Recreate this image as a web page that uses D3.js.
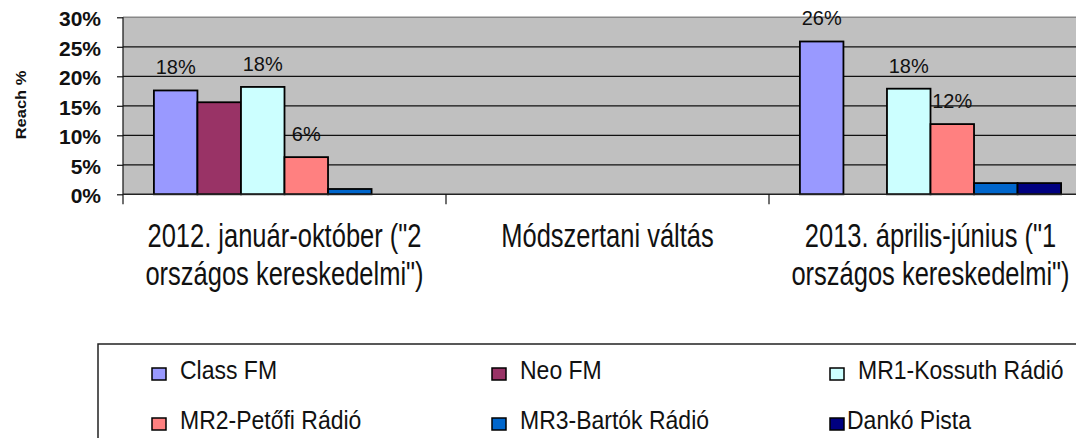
<!DOCTYPE html>
<html>
<head>
<meta charset="utf-8">
<script src="https://cdn.jsdelivr.net/npm/d3@7"></script>
<style>
  body { margin: 0; background: #fff; overflow: hidden; }
  svg { display: block; font-family: "Liberation Sans", Arial, sans-serif; }
  .catLabel { font-size: 25.5px; fill: #111; }
  .y-axis text { font-size: 21px; font-weight: bold; fill: #111; }
  .barLabel { font-size: 20px; fill: #111; }
  .legendText { font-size: 23px; fill: #111; }
</style>
</head>
<body>
<div id="chart"></div>
<script>
// data (reach, %)
var categories = ["2012. január-október (\"2 országos kereskedelmi\")", "Módszertani váltás", "2013. április-június (\"1 országos kereskedelmi\")"];
var categoryLines = [
  ["2012. január-október (\"2", "országos kereskedelmi\")"],
  ["Módszertani váltás"],
  ["2013. április-június (\"1", "országos kereskedelmi\")"]
];
var series = ["Class FM", "Neo FM", "MR1-Kossuth Rádió", "MR2-Petőfi Rádió", "MR3-Bartók Rádió", "Dankó Pista"];
var classFM = [17.6, null, 25.9];
var neoFM = [15.6, null, null];
var mr1 = [18.2, null, 17.9];
var mr2 = [6.3, null, 11.9];
var mr3 = [0.9, null, 1.9];
var danko = [null, null, 1.9];
var labelledSeries = ["Class FM", "MR1-Kossuth Rádió", "MR2-Petőfi Rádió"];
var yTicks = [0, 5, 10, 15, 20, 25, 30];

var colors = ["#9999FF", "#993366", "#CCFFFF", "#FF8080", "#0066CC", "#000080"];
var allValues = [classFM, neoFM, mr1, mr2, mr3, danko];

var svgWidth = 1076;
var svgHeight = 438;

var svg = d3.select("#chart")
  .append("svg")
  .attr("width", svgWidth)
  .attr("height", svgHeight);

// plot area (runs past the right edge, as in the picture)
var plot = { left: 123, top: 17.3, bottom: 194.3, right: 1092 };

var x0 = d3.scaleBand()
  .domain(categories)
  .range([plot.left, plot.right]);

var x1 = d3.scaleBand()
  .domain(series)
  .range([0, x0.bandwidth()])
  .paddingOuter(0.71);

var y = d3.scaleLinear()
  .domain([0, 30])
  .range([plot.bottom, plot.top]);

// grey background
svg.append("rect")
  .attr("x", plot.left)
  .attr("y", plot.top)
  .attr("width", plot.right - plot.left)
  .attr("height", plot.bottom - plot.top)
  .attr("fill", "#C0C0C0");

// gridlines
svg.selectAll(".grid")
  .data(yTicks.filter(d => d > 0 && d < 30))
  .enter()
  .append("line")
  .attr("x1", plot.left)
  .attr("x2", plot.right)
  .attr("y1", d => y(d))
  .attr("y2", d => y(d))
  .attr("stroke", "#111")
  .attr("stroke-width", 1.2);

// top border
svg.append("line")
  .attr("x1", plot.left)
  .attr("x2", plot.right)
  .attr("y1", y(30))
  .attr("y2", y(30))
  .attr("stroke", "#888")
  .attr("stroke-width", 1.5);

// build rows for bars
var rows = [];
series.forEach(function(s, i) {
  allValues[i].forEach(function(v, j) {
    if (v !== null) rows.push({ series: s, cat: categories[j], value: v, color: colors[i] });
  });
});

svg.selectAll(".bar")
  .data(rows)
  .enter()
  .append("rect")
  .attr("class", "bar")
  .attr("x", d => x0(d.cat) + x1(d.series))
  .attr("y", d => y(d.value))
  .attr("width", x1.bandwidth())
  .attr("height", d => y(0) - y(d.value))
  .attr("fill", d => d.color)
  .attr("stroke", "#000")
  .attr("stroke-width", 1.8);

// data labels
svg.selectAll(".barLabel")
  .data(rows.filter(d => labelledSeries.indexOf(d.series) >= 0))
  .enter()
  .append("text")
  .attr("class", "barLabel")
  .attr("x", d => x0(d.cat) + x1(d.series) + x1.bandwidth() / 2)
  .attr("y", d => y(d.value) - 16)
  .attr("text-anchor", "middle")
  .text(d => Math.round(d.value) + "%");

// y axis
var leftAxis = d3.axisLeft(y)
  .tickValues(yTicks)
  .tickSize(6)
  .tickPadding(16)
  .tickFormat(d => d + "%");

var yAxis = svg.append("g")
  .attr("class", "y-axis")
  .attr("transform", `translate(${plot.left}, 0)`)
  .call(leftAxis);
yAxis.select(".domain").remove();
yAxis.selectAll("line").attr("stroke", "#111").attr("stroke-width", 1.2);
yAxis.selectAll("text").attr("dy", "0.4em");

// axis lines
svg.append("line")
  .attr("x1", plot.left)
  .attr("x2", plot.left)
  .attr("y1", plot.top)
  .attr("y2", plot.bottom + 10)
  .attr("stroke", "#111")
  .attr("stroke-width", 1.2);

svg.append("line")
  .attr("x1", plot.left)
  .attr("x2", plot.right)
  .attr("y1", plot.bottom)
  .attr("y2", plot.bottom)
  .attr("stroke", "#222")
  .attr("stroke-width", 1.5);

// category ticks
svg.selectAll(".catTick")
  .data(categories.slice(1))
  .enter()
  .append("line")
  .attr("x1", d => x0(d))
  .attr("x2", d => x0(d))
  .attr("y1", plot.bottom)
  .attr("y2", plot.bottom + 10)
  .attr("stroke", "#111")
  .attr("stroke-width", 1.2);

// category labels (the picture's text is tall and narrow, so stretch it)
var catLines = [];
categories.forEach(function(c, i) {
  categoryLines[i].forEach(function(t, k) {
    catLines.push({ t: t, cx: x0(c) + x0.bandwidth() / 2, line: k });
  });
});

svg.selectAll(".catLabel")
  .data(catLines)
  .enter()
  .append("text")
  .attr("class", "catLabel")
  .attr("text-anchor", "middle")
  .attr("transform", d => `translate(${d.cx}, ${247 + d.line * 38}) scale(1, 1.3)`)
  .text(d => d.t);

// y title
svg.append("text")
  .attr("transform", "translate(26, 105) rotate(-90) scale(1.1, 1)")
  .attr("text-anchor", "middle")
  .attr("font-size", "15px")
  .attr("font-weight", "bold")
  .attr("fill", "#111")
  .text("Reach %");

// legend
svg.append("rect")
  .attr("x", 98)
  .attr("y", 344)
  .attr("width", 1100)
  .attr("height", 200)
  .attr("fill", "#fff")
  .attr("stroke", "#222")
  .attr("stroke-width", 1.5);

var legendCols = [152, 492, 830];
var legend = svg.selectAll(".legendItem")
  .data(series)
  .enter()
  .append("g")
  .attr("class", "legendItem")
  .attr("transform", (d, i) => `translate(${legendCols[i % 3]}, ${368 + Math.floor(i / 3) * 50})`);

legend.append("rect")
  .attr("width", 14)
  .attr("height", 12)
  .attr("fill", (d, i) => colors[i])
  .attr("stroke", "#000")
  .attr("stroke-width", 1.5);

// the last entry sits a little closer to its swatch in the picture
legend.append("text")
  .attr("class", "legendText")
  .attr("transform", (d, i) => `translate(${i === 5 ? 17 : 28}, 11) scale(1, 1.15)`)
  .text(d => d);
</script>
</body>
</html>
